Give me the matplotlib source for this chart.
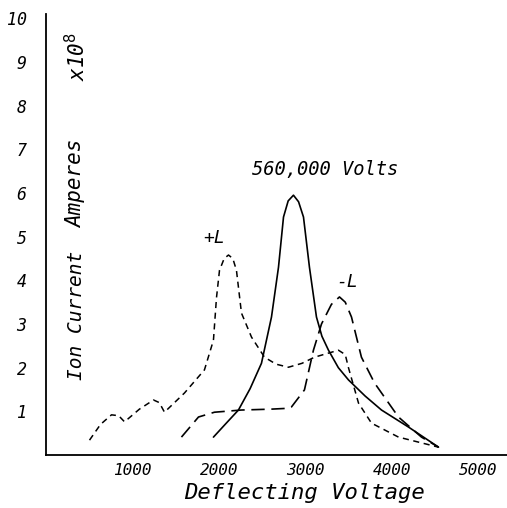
import matplotlib
matplotlib.use("Agg")
import matplotlib.pyplot as plt

plt.rcParams["font.family"] = "DejaVu Sans Mono"

# main beam, 560,000 volts (solid)
main_v = [1936, 2080, 2225, 2360, 2491, 2607, 2688, 2746, 2800, 2861, 2920, 2977,
          3046, 3127, 3190, 3266, 3380, 3497, 3690, 3879, 4191, 4538]
main_i = [0.41, 0.72, 1.03, 1.52, 2.1, 3.16, 4.3, 5.45, 5.82, 5.95, 5.8, 5.45,
          4.3, 3.16, 2.72, 2.4, 2.0, 1.72, 1.35, 1.03, 0.64, 0.18]

# +L (short dashes)
plus_v = [503, 630, 757, 840, 908, 1080, 1243, 1310, 1370, 1601, 1832, 1936, 1971,
          2006, 2060, 2110, 2160, 2202, 2260, 2376, 2526, 2660, 2803, 2960, 3104,
          3381, 3460, 3497, 3613, 3763, 4075, 4538]
plus_i = [0.34, 0.7, 0.92, 0.9, 0.76, 1.05, 1.26, 1.2, 0.98, 1.42, 1.95, 2.63, 3.6,
          4.23, 4.5, 4.58, 4.5, 4.23, 3.25, 2.7, 2.24, 2.08, 2.01, 2.1, 2.24,
          2.4, 2.3, 2.0, 1.19, 0.73, 0.41, 0.18]

# -L (long dashes)
minus_v = [1566, 1763, 1948, 2260, 2600, 2803, 2838, 2988, 3092, 3185, 3300, 3393,
           3460, 3532, 3647, 3798, 4075, 4341, 4538]
minus_i = [0.41, 0.87, 0.98, 1.03, 1.05, 1.07, 1.1, 1.49, 2.4, 3.0, 3.45, 3.62,
           3.5, 3.16, 2.24, 1.65, 0.87, 0.41, 0.18]

x_ticks = [1000, 2000, 3000, 4000, 5000]
x_labels = ["1000", "2000", "3000", "4000", "5000"]
y_ticks = [1, 2, 3, 4, 5, 6, 7, 8, 9, 10]

fig = plt.figure(figsize=(5.07, 5.08), dpi=100)
ax = fig.add_axes([46 / 507, 53 / 508, 461 / 507, 441 / 508])

ax.plot(main_v, main_i, color="black", lw=1.2, solid_capstyle="round")
ax.plot(plus_v, plus_i, color="black", lw=1.1, dashes=(4, 3))
ax.plot(minus_v, minus_i, color="black", lw=1.2, dashes=(8, 4))

ax.set_xlim(0, 5330)
ax.set_ylim(0, 10.1)

for s in ["top", "right"]:
    ax.spines[s].set_visible(False)
ax.spines["left"].set_linewidth(1.3)
ax.spines["bottom"].set_linewidth(1.3)

ax.set_xticks(x_ticks)
ax.set_xticklabels(x_labels, fontsize=11.5, style="italic")
ax.set_yticks(y_ticks)
ax.set_yticklabels([str(t) for t in y_ticks], fontsize=12, style="italic")
ax.tick_params(axis="x", length=0, pad=6)
ax.tick_params(axis="y", length=0, pad=14)

fig.text(304 / 507, 1 - 493 / 508, "Deflecting Voltage", fontsize=16,
         style="italic", ha="center", va="center")

# y-axis caption, written inside the axes as on the original
ax.text(353, 3.2, "Ion Current", rotation=90, fontsize=14, style="italic",
        ha="center", va="center")
ax.text(353, 6.22, "Amperes", rotation=90, fontsize=15, style="italic",
        ha="center", va="center")
ax.text(353, 9.12, "x10$^8$", rotation=90, fontsize=15, style="italic",
        ha="center", va="center")

ax.text(1948, 4.98, "+L", fontsize=13, style="italic", ha="center", va="center")
ax.text(3480, 3.97, "-L", fontsize=13, style="italic", ha="center", va="center")
ax.text(3230, 6.55, "560,000 Volts", fontsize=13.5, style="italic",
        ha="center", va="center")

fig.savefig("out.png", dpi=100)
